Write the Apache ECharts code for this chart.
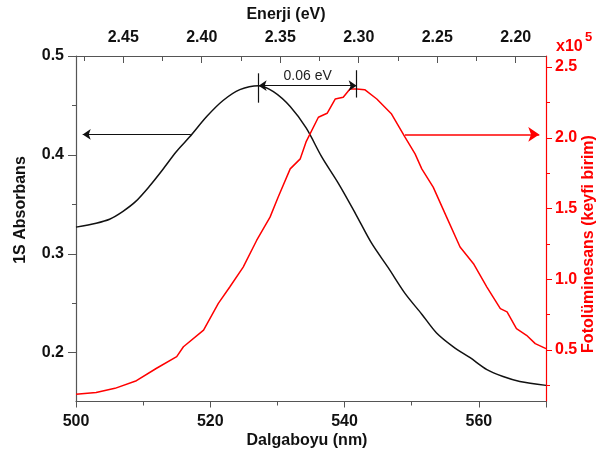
<!DOCTYPE html>
<html>
<head>
<meta charset="utf-8">
<script src="https://cdn.jsdelivr.net/npm/echarts@6/dist/echarts.min.js"></script>
<style>
  html, body { margin: 0; padding: 0; background: #fff; }
  #chart { width: 597px; height: 454px; }
</style>
</head>
<body>
<div id="chart"></div>
<script>
// 1S absorbans (siyah)
const absNm = [500, 503, 505, 507, 508.9, 510.9, 512.9, 514.9, 516.9, 519.5, 521.9, 524.4, 527.2, 529.4, 531.9, 534.3, 536.6, 539.1, 541.6, 544, 546.5, 549, 551.5, 553.7, 556.2, 558.7, 561.2, 563.6, 566.1, 570]
const absVals = [0.327, 0.331, 0.335, 0.343, 0.353, 0.368, 0.385, 0.403, 0.418, 0.439, 0.455, 0.466, 0.470, 0.464, 0.449, 0.427, 0.398, 0.371, 0.341, 0.311, 0.286, 0.260, 0.239, 0.220, 0.206, 0.195, 0.183, 0.176, 0.171, 0.167]
// fotolüminesans (kirmizi, x10^5)
const plNm = [500, 503, 505.8, 509, 512, 515, 516, 519, 521.2, 522.9, 524.9, 526.9, 528.9, 530.1, 531.9, 533.4, 534.3, 536.1, 537.4, 538.6, 539.8, 540.8, 541.8, 543, 544.8, 547, 549, 550.5, 551.5, 553.2, 555.2, 557.2, 559.2, 561.2, 563.2, 564.2, 565.6, 567.1, 568.4, 570]
const plVals = [0.187, 0.200, 0.229, 0.283, 0.371, 0.453, 0.523, 0.641, 0.83, 0.945, 1.086, 1.274, 1.439, 1.580, 1.780, 1.851, 1.975, 2.145, 2.173, 2.274, 2.286, 2.345, 2.345, 2.340, 2.274, 2.168, 2.004, 1.886, 1.78, 1.651, 1.439, 1.228, 1.110, 0.945, 0.792, 0.769, 0.651, 0.604, 0.545, 0.510]
// tick labels
const absTicks = [0.2, 0.3, 0.4, 0.5]
const absMinor = [0.15, 0.25, 0.35, 0.45]
const plTicks = [0.5, 1.0, 1.5, 2.0, 2.5]
const plMinor = [0.25, 0.75, 1.25, 1.75, 2.25]
const evTicks = [2.45, 2.40, 2.35, 2.30, 2.25, 2.20]
const evMinor = [2.475, 2.425, 2.375, 2.325, 2.275, 2.225]
// 0.06 eV isareti
const absPeakNm = 527.2
const plPeakNm = 541.8
const shiftY = 0.470
const arrowAbsY = 0.4207
const arrowPlY = 2.024

const FONT = 'Arial, "Liberation Sans", sans-serif'
const RED = '#ff0000'
const AXIS = '#555'

const chart = echarts.init(document.getElementById('chart'), null, {renderer: 'canvas'})

const tickLabel = {fontFamily: FONT, fontSize: 16, fontWeight: 'bold', color: '#111'}

const option = {
  animation: false,
  grid: {left: 76, right: 51, top: 56, bottom: 52.5},
  xAxis: [
    {
      type: 'value',
      min: 500,
      max: 570,
      interval: 20,
      position: 'bottom',
      axisLine: {lineStyle: {color: AXIS, width: 1.2}},
      axisTick: {length: 6, lineStyle: {color: AXIS}},
      minorTick: {show: true, splitNumber: 2, length: 4, lineStyle: {color: AXIS}},
      axisLabel: {...tickLabel, margin: 12, showMaxLabel: false},
      splitLine: {show: false}
    },
    {
      // enerji ekseni
      type: 'value',
      inverse: true,
      min: 2.1807,
      max: 2.4801,
      position: 'top',
      axisLine: {lineStyle: {color: AXIS, width: 1.2}},
      axisTick: {inside: true, length: 7, customValues: evTicks, lineStyle: {color: AXIS}},
      axisLabel: {...tickLabel, margin: 10, customValues: evTicks, formatter: v => v.toFixed(2)},
      splitLine: {show: false}
    },
    {
      type: 'value',
      inverse: true,
      min: 2.1807,
      max: 2.4801,
      position: 'top',
      axisLine: {show: false},
      axisTick: {inside: true, length: 5, customValues: evMinor, lineStyle: {color: AXIS}},
      axisLabel: {show: false},
      splitLine: {show: false}
    }
  ],
  yAxis: [
    {
      type: 'value',
      min: 0.1507,
      max: 0.5,
      position: 'left',
      axisLine: {show: true, lineStyle: {color: AXIS, width: 1.2}},
      axisTick: {show: true, length: 8, customValues: absTicks, lineStyle: {color: AXIS}},
      axisLabel: {...tickLabel, margin: 12, customValues: absTicks, formatter: v => v.toFixed(1)},
      splitLine: {show: false}
    },
    {
      type: 'value',
      min: 0.136,
      max: 2.578,
      position: 'right',
      axisLine: {show: true, lineStyle: {color: RED, width: 1.2}},
      axisTick: {show: true, length: 6, customValues: plTicks, lineStyle: {color: RED}},
      axisLabel: {...tickLabel, color: RED, margin: 9, customValues: plTicks, formatter: v => v.toFixed(1)},
      splitLine: {show: false}
    },
    {
      type: 'value',
      min: 0.1507,
      max: 0.5,
      position: 'left',
      axisLine: {show: false},
      axisTick: {show: true, length: 4, customValues: absMinor, lineStyle: {color: AXIS}},
      axisLabel: {show: false},
      splitLine: {show: false}
    },
    {
      type: 'value',
      min: 0.136,
      max: 2.578,
      position: 'right',
      axisLine: {show: false},
      axisTick: {show: true, length: 4, customValues: plMinor, lineStyle: {color: RED}},
      axisLabel: {show: false},
      splitLine: {show: false}
    }
  ],
  series: [
    {
      name: '1S Absorbans',
      type: 'line',
      xAxisIndex: 0,
      yAxisIndex: 0,
      data: absNm.map((x, i) => [x, absVals[i]]),
      smooth: 0.3,
      showSymbol: false,
      lineStyle: {color: '#111', width: 1.5},
      markLine: {
        silent: true,
        animation: false,
        symbolSize: 8,
        label: {show: false},
        lineStyle: {color: '#111', width: 1.2, type: 'solid'},
        data: [
          [{coord: [517.1, arrowAbsY], symbol: 'none'}, {coord: [501, arrowAbsY], symbol: 'arrow'}],
          [{coord: [absPeakNm, 0.4825], symbol: 'none'}, {coord: [absPeakNm, 0.4528], symbol: 'none'}],
          [{coord: [plPeakNm, 0.4856], symbol: 'none'}, {coord: [plPeakNm, 0.458], symbol: 'none'}],
          [
            {
              coord: [absPeakNm, shiftY],
              symbol: 'arrow',
              label: {show: true, position: 'insideMiddleTop', distance: 3, formatter: '0.06 eV', fontFamily: FONT, fontSize: 14, color: '#222'}
            },
            {coord: [plPeakNm, shiftY], symbol: 'arrow'}
          ]
        ]
      }
    },
    {
      name: 'Fotolüminesans',
      type: 'line',
      xAxisIndex: 0,
      yAxisIndex: 1,
      data: plNm.map((x, i) => [x, plVals[i]]),
      showSymbol: false,
      lineStyle: {color: RED, width: 1.5},
      markLine: {
        silent: true,
        animation: false,
        symbol: ['none', 'arrow'],
        symbolSize: 11,
        label: {show: false},
        lineStyle: {color: RED, width: 1.5, type: 'solid'},
        data: [
          [{coord: [549, arrowPlY]}, {coord: [569, arrowPlY]}]
        ]
      }
    }
  ],
  graphic: [
    {
      type: 'text', x: 286, y: 15,
      style: {text: 'Enerji (eV)', font: 'bold 16px ' + FONT, fill: '#111', align: 'center', verticalAlign: 'middle'}
    },
    {
      type: 'text', x: 307, y: 441,
      style: {text: 'Dalgaboyu (nm)', font: 'bold 16px ' + FONT, fill: '#111', align: 'center', verticalAlign: 'middle'}
    },
    {
      type: 'text', x: 21, y: 210, rotation: Math.PI / 2,
      style: {text: '1S Absorbans', font: 'bold 16px ' + FONT, fill: '#111', align: 'center', verticalAlign: 'middle'}
    },
    {
      type: 'text', x: 589, y: 244, rotation: Math.PI / 2,
      style: {text: 'Fotolüminesans (keyfi birim)', font: 'bold 16px ' + FONT, fill: RED, align: 'center', verticalAlign: 'middle'}
    },
    {
      type: 'text', x: 556, y: 47,
      style: {text: 'x10', font: 'bold 16px ' + FONT, fill: RED, align: 'left', verticalAlign: 'middle'}
    },
    {
      type: 'text', x: 585, y: 37,
      style: {text: '5', font: 'bold 13px ' + FONT, fill: RED, align: 'left', verticalAlign: 'middle'}
    }
  ]
}

chart.setOption(option)
</script>
</body>
</html>
